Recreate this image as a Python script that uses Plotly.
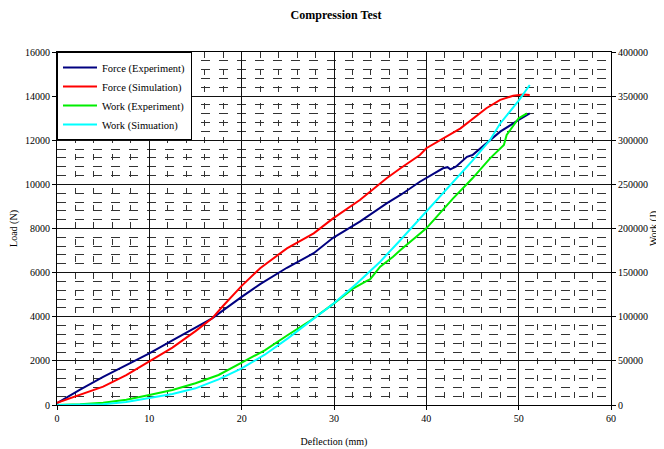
import plotly.graph_objects as go

# Force (Experiment)
fe_x = [0, 2.5, 5, 7.5, 10, 12.5, 15, 16.8, 20, 22, 24.9, 27.8, 29.9, 32.8, 35.7, 37.2, 39.3, 40.5, 41.8, 42.3, 42.6, 43.2, 44.4, 45, 46.9, 48, 50, 51.2]
fe_y = [80, 700, 1280, 1820, 2340, 2930, 3500, 3930, 4900, 5480, 6220, 6880, 7580, 8310, 9140, 9520, 10120, 10400, 10730, 10780, 10680, 10800, 11250, 11330, 12000, 12390, 12920, 13220]

# Force (Simulation)
fs_x = [0, 2.5, 5, 7.5, 10, 12.5, 15, 16.8, 18, 20, 22, 24.9, 27.8, 29.9, 32.8, 35.7, 37.2, 39.3, 40, 43.7, 46.5, 48, 49.4, 50.5, 51.2]
fs_y = [100, 480, 830, 1350, 1960, 2600, 3350, 3930, 4500, 5400, 6200, 7100, 7780, 8460, 9290, 10280, 10730, 11330, 11640, 12540, 13450, 13830, 14020, 14070, 14050]

# Work (Experiment)
we_x = [0, 2.5, 5, 7.5, 10, 12.5, 15, 17.5, 20, 22.5, 25, 27.5, 30, 32.1, 33.6, 33.9, 35.0, 36.4, 37.2, 40, 42.9, 45, 46.9, 47.6, 48.4, 48.7, 50, 50.9]
we_y = [0, 800, 2600, 6000, 11300, 17000, 24600, 34000, 48000, 62000, 79300, 96000, 115200, 132200, 140900, 142400, 156700, 168000, 175600, 200200, 234200, 256900, 279500, 287000, 294600, 306000, 324900, 330500]

# Work (Simuation)
ws_x = [0, 2.5, 5, 7.5, 10, 12.5, 15, 17.5, 20, 22.5, 25, 27.5, 30, 32.5, 35, 37.2, 40, 42.9, 45, 46.9, 48, 50, 51.2]
ws_y = [0, 200, 800, 3500, 7600, 12500, 18900, 29000, 41500, 57000, 75500, 95000, 115200, 138000, 162400, 187000, 219000, 251900, 277000, 300300, 319000, 345000, 362600]

FONT = "Liberation Serif"
TF = dict(family=FONT, size=10, color="black")

fig = go.Figure()
fig.add_trace(go.Scatter(x=fe_x, y=fe_y, mode="lines", name="Force (Experiment)",
                         line=dict(color="#000080", width=2)))
fig.add_trace(go.Scatter(x=fs_x, y=fs_y, mode="lines", name="Force (Simulation)",
                         line=dict(color="#FF0000", width=2)))
fig.add_trace(go.Scatter(x=we_x, y=we_y, mode="lines", name="Work (Experiment)",
                         line=dict(color="#00EE00", width=2), yaxis="y2"))
fig.add_trace(go.Scatter(x=ws_x, y=ws_y, mode="lines", name="Work (Simuation)",
                         line=dict(color="#00FFFF", width=2), yaxis="y2"))

# page body has an 8px margin, so the figure is sized to fit inside the window
W, H = 656, 441

fig.update_layout(
    width=W, height=H,
    margin=dict(l=49, r=53, t=44, b=44),
    paper_bgcolor="white", plot_bgcolor="white",
    font=dict(family=FONT, size=10, color="black"),
    title=dict(text="<b>Compression Test</b>", x=0.5, xanchor="center",
               yref="container", y=1 - 7 / H, yanchor="middle",
               font=dict(family=FONT, size=12, color="black")),
    showlegend=True,
    legend=dict(x=0, y=1, xanchor="left", yanchor="top", bgcolor="white",
                bordercolor="black", borderwidth=1, font=dict(family=FONT, size=10.5),
                itemwidth=34, tracegroupgap=0),
    xaxis=dict(range=[0, 60], dtick=10, tick0=0, showline=True, linecolor="black", linewidth=1,
               mirror=True, ticks="outside", ticklen=4, tickcolor="black", tickfont=TF,
               automargin=False,
               showgrid=True, gridcolor="#111", gridwidth=1, zeroline=False,
               minor=dict(dtick=2, showgrid=True, gridcolor="#333", griddash="6px,11px", gridwidth=1),
               title=dict(text="Deflection (mm)", standoff=14, font=dict(family=FONT, size=10))),
    yaxis=dict(range=[0, 16000], dtick=2000, tick0=0, tickformat="d", showline=True,
               linecolor="black", linewidth=1, automargin=False,
               mirror=True, ticks="outside", ticklen=4, tickcolor="black", tickfont=TF,
               showgrid=True, gridcolor="#111", gridwidth=1, zeroline=False,
               minor=dict(dtick=400, showgrid=True, gridcolor="#333", griddash="9px,9px", gridwidth=1),
               title=dict(text="Load (N)", standoff=10, font=dict(family=FONT, size=10))),
    yaxis2=dict(range=[0, 400000], dtick=50000, tick0=0, tickformat="d", overlaying="y", side="right",
                showline=True, linecolor="black", linewidth=1, ticks="outside", ticklen=4,
                tickcolor="black", showgrid=False, zeroline=False, tickfont=TF, automargin=False,
                title=dict(text="Work (J)", standoff=0, font=dict(family=FONT, size=10))),
)

fig.write_html("out.html")
